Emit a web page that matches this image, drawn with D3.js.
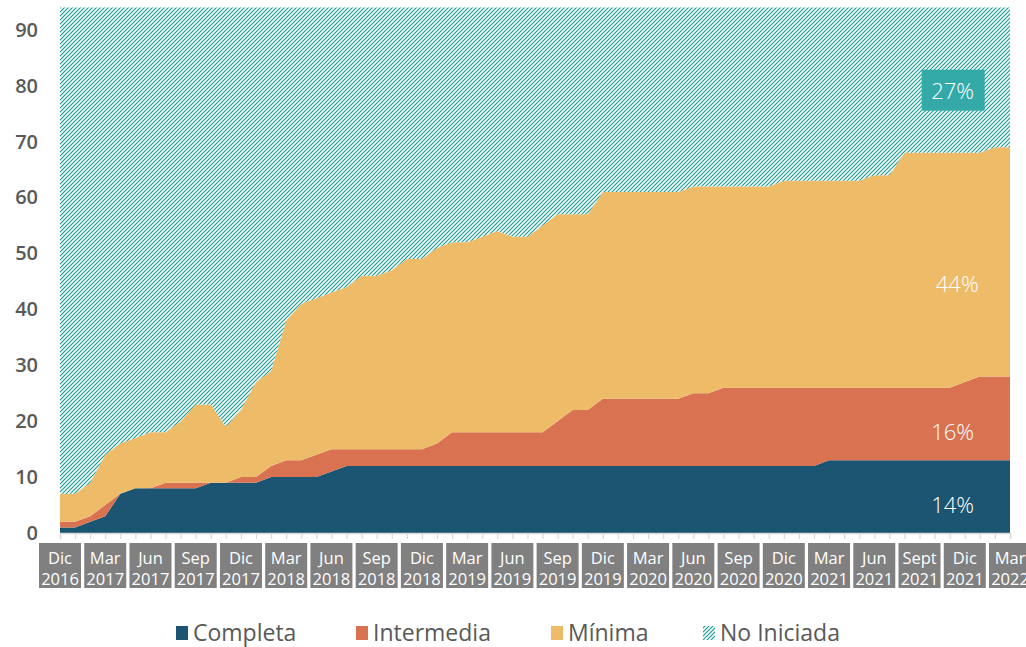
<!DOCTYPE html>
<html>
<head>
<meta charset="utf-8">
<script src="https://cdn.jsdelivr.net/npm/d3@7/dist/d3.min.js"></script>
<style>
  body { margin: 0; background: #fff; }
  svg { display: block; font-family: "Open Sans", sans-serif; }
</style>
</head>
<body>
<svg width="1026" height="647"></svg>
<script>
// monthly values, Dic 2016 .. Mar 2022 (64 months)
var completa = [1,1,2,3,7,8,8,8,8,8,9,9,9,9,10,10,10,10,11,12,
  12,12,12,12,12,12,12,12,12,12,12,12,12,12,12,12,12,12,12,12,
  12,12,12,12,12,12,12,12,12,12,12,13,13,13,13,13,13,13,13,13,
  13,13,13,13];
var intermedia = [1,1,1,2,0,0,0,1,1,1,0,0,1,1,2,3,3,4,4,3,
  3,3,3,3,3,4,6,6,6,6,6,6,6,8,10,10,12,12,12,12,
  12,12,13,13,14,14,14,14,14,14,14,13,13,13,13,13,13,13,13,13,
  14,15,15,15];
var minima = [5,5,6,9,9,9,10,9,11,14,14,10,12,17,17,25,28,28,28,29,
  31,31,32,34,34,35,34,34,35,36,35,35,37,37,35,35,37,37,37,37,
  37,37,37,37,36,36,36,36,37,37,37,37,37,37,38,38,42,42,42,42,
  41,40,41,41];
var noIniciada = [87,87,85,80,78,77,76,76,74,71,71,75,72,67,65,56,53,52,51,50,
  48,48,47,45,45,43,42,42,41,40,41,41,39,37,37,37,33,33,33,33,
  33,33,32,32,32,32,32,32,31,31,31,31,31,31,30,30,26,26,26,26,
  26,26,25,25];

var seriesKeys = ["Completa", "Intermedia", "Mínima", "No Iniciada"];
var seriesColors = ["#1c5571", "#d97250", "#eebb69", "url(#hatch)"];

// quarter labels (every third month)
var tickMonths = ["Dic","Mar","Jun","Sep","Dic","Mar","Jun","Sep","Dic","Mar","Jun",
  "Sep","Dic","Mar","Jun","Sep","Dic","Mar","Jun","Sept","Dic","Mar"];
var tickYears = ["2016","2017","2017","2017","2017","2018","2018","2018","2018","2019","2019",
  "2019","2019","2020","2020","2020","2020","2021","2021","2021","2021","2022"];

var yTicks = [0,10,20,30,40,50,60,70,80,90];

// final shares: [text, month index, value]
var shareLabels = [["14%", 59.2, 5.1], ["16%", 59.2, 18.3], ["44%", 59.5, 44.8]];
var noIniciadaLabel = ["27%", 59.2, 79.3];

var svg = d3.select("svg");
var left = 60, right = 1010, bottom = 533;

var table = completa.map(function(d, i){
  return {i: i, "Completa": d, "Intermedia": intermedia[i], "Mínima": minima[i], "No Iniciada": noIniciada[i]};
});

var x = d3.scaleLinear().domain([0, completa.length - 1]).range([left, right]);
var y = d3.scaleLinear().domain([0, 94]).range([bottom, 7.5]);

var defs = svg.append("defs");
var pat = defs.append("pattern").attr("id", "hatch")
  .attr("patternUnits", "userSpaceOnUse")
  .attr("width", 4).attr("height", 4);
pat.append("rect").attr("width", 4).attr("height", 4).attr("fill", "#fff");
pat.append("path").attr("d", "M-1,5 L5,-1 M-1,1 L1,-1 M3,5 L5,3")
  .attr("stroke", "#1a9e96").attr("stroke-width", 1.2);

var stack = d3.stack().keys(seriesKeys);
var layers = stack(table);

var area = d3.area()
  .x(function(d){ return x(d.data.i); })
  .y0(function(d){ return y(d[0]); })
  .y1(function(d){ return y(d[1]); });

svg.append("g").selectAll("path").data(layers).enter().append("path")
  .attr("d", area)
  .attr("fill", function(d, i){ return seriesColors[i]; });

// y axis labels
var yAxis = d3.axisLeft(y).tickValues(yTicks).tickSize(0).tickPadding(0);
var gy = svg.append("g").attr("transform", "translate(38,0)").call(yAxis);
gy.select(".domain").remove();
gy.selectAll("text").attr("fill", "#595959").style("font-size", "20px")
  .style("font-weight", "600").style("font-family", "'Open Sans', sans-serif");

// x axis: monthly ticks
var xAxis = d3.axisBottom(x).tickValues(d3.range(0, completa.length)).tickSize(6).tickFormat("");
var gx = svg.append("g").attr("transform", "translate(0," + bottom + ")").call(xAxis);
gx.select(".domain").attr("stroke", "#d9d9d9").attr("stroke-width", 1.5);
gx.selectAll(".tick line").attr("stroke", "#d9d9d9").attr("stroke-width", 1.2);

// quarter label boxes
var lab = svg.append("g").selectAll("g").data(tickMonths).enter().append("g")
  .attr("transform", function(d, i){ return "translate(" + x(i * 3) + ",0)"; });
lab.append("rect").attr("x", -21).attr("y", 543).attr("width", 42).attr("height", 45)
  .attr("fill", "#808080");
lab.append("text").attr("y", 557).attr("text-anchor", "middle").attr("dominant-baseline", "central")
  .attr("fill", "#fff").style("font-size", "16.5px").text(function(d){ return d; });
lab.append("text").attr("y", 578).attr("text-anchor", "middle").attr("dominant-baseline", "central")
  .attr("fill", "#fff").style("font-size", "16.5px").text(function(d, i){ return tickYears[i]; });

// share labels
svg.append("g").selectAll("text").data(shareLabels).enter().append("text")
  .attr("x", function(d){ return x(d[1]); })
  .attr("y", function(d){ return y(d[2]); })
  .attr("text-anchor", "middle").attr("dominant-baseline", "central")
  .attr("fill", "#fff").style("font-size", "22px").style("font-weight", "300")
  .text(function(d){ return d[0]; });

var nb = svg.append("g");
nb.append("rect").attr("x", x(noIniciadaLabel[1]) - 31).attr("y", y(noIniciadaLabel[2]) - 20)
  .attr("width", 63).attr("height", 41).attr("fill", "#33aaa8");
nb.append("text").attr("x", x(noIniciadaLabel[1])).attr("y", y(noIniciadaLabel[2]))
  .attr("text-anchor", "middle").attr("dominant-baseline", "central")
  .attr("fill", "#fff").style("font-size", "22px").style("font-weight", "300")
  .text(noIniciadaLabel[0]);

// legend
var legendX = [176, 356, 551, 703];
var lg = svg.append("g").selectAll("g").data(seriesKeys).enter().append("g")
  .attr("transform", function(d, i){ return "translate(" + legendX[i] + ",0)"; });
lg.append("rect").attr("x", 0).attr("y", 626).attr("width", 12).attr("height", 14)
  .attr("fill", function(d, i){ return seriesColors[i]; });
lg.append("text").attr("x", 17).attr("y", 632).attr("dominant-baseline", "central")
  .attr("fill", "#595959").style("font-size", "23px")
  .text(function(d){ return d; });
</script>
</body>
</html>
